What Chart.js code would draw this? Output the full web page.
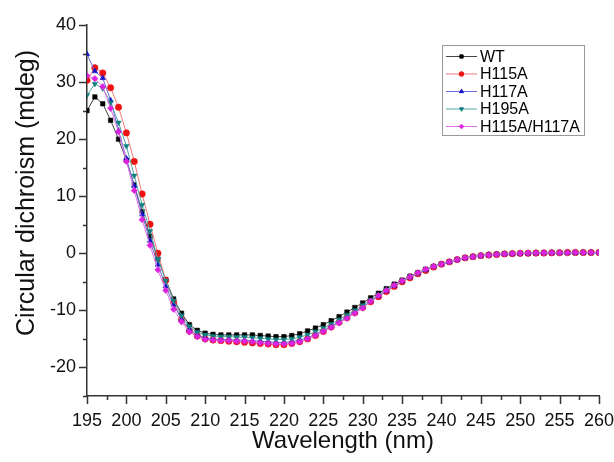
<!DOCTYPE html>
<html>
<head>
<meta charset="utf-8">
<script src="https://cdn.jsdelivr.net/npm/chart.js@4.4.0/dist/chart.umd.min.js"></script>
<style>
  body { margin: 0; background: #fff; }
  #wrap { width: 614px; height: 462px; }
</style>
</head>
<body>
<div id="wrap"><canvas id="cdChart" width="614" height="462"></canvas></div>
<script>
const wavelengths = [195, 196, 197, 198, 199, 200, 201, 202, 203, 204, 205, 206, 207, 208, 209, 210,
    211, 212, 213, 214, 215, 216, 217, 218, 219, 220, 221, 222, 223, 224, 225, 226, 227, 228, 229, 230,
    231, 232, 233, 234, 235, 236, 237, 238, 239, 240, 241, 242, 243, 244, 245, 246, 247, 248, 249, 250,
    251, 252, 253, 254, 255, 256, 257, 258, 259, 260];

const wt = [25.0, 27.4, 26.2, 23.3, 20.0, 16.3, 12.0, 7.3, 3.0, -1.0, -4.6, -8.0, -10.5, -12.5, -13.5, -14.0,
    -14.2, -14.3, -14.3, -14.3, -14.3, -14.3, -14.4, -14.5, -14.6, -14.6, -14.4, -14.1, -13.6, -13.1, -12.5, -11.8, -11.1, -10.3, -9.5, -8.7,
    -7.8, -7.0, -6.2, -5.4, -4.7, -4.0, -3.4, -2.8, -2.3, -1.9, -1.5, -1.1, -0.8, -0.6, -0.45, -0.3, -0.2, -0.15, -0.1, -0.05,
    0, 0, 0.05, 0.05, 0.1, 0.1, 0.1, 0.1, 0.1, 0.1];

const h115a = [30.3, 32.5, 31.6, 29.0, 25.6, 21.1, 16.1, 10.4, 5.1, 0.0, -4.7, -8.6, -11.6, -13.6, -14.5, -15.0,
    -15.2, -15.3, -15.4, -15.5, -15.6, -15.7, -15.8, -15.9, -16.0, -16.0, -15.8, -15.5, -15.0, -14.4, -13.7, -12.9, -12.1, -11.3, -10.4, -9.5,
    -8.5, -7.6, -6.7, -5.8, -5.0, -4.3, -3.6, -3.0, -2.4, -1.9, -1.5, -1.1, -0.8, -0.6, -0.4, -0.3, -0.2, -0.1, -0.05, 0,
    0, 0.05, 0.05, 0.1, 0.1, 0.15, 0.15, 0.15, 0.15, 0.15];

const h117a = [34.9, 31.9, 30.7, 26.8, 21.5, 16.6, 11.8, 6.8, 2.2, -2.0, -5.8, -9.0, -11.5, -13.3, -14.3, -14.8,
    -15.0, -15.1, -15.1, -15.2, -15.2, -15.3, -15.4, -15.5, -15.6, -15.6, -15.5, -15.2, -14.8, -14.2, -13.5, -12.8, -12.0, -11.2, -10.3, -9.4,
    -8.4, -7.5, -6.6, -5.7, -4.9, -4.2, -3.5, -2.9, -2.3, -1.9, -1.5, -1.1, -0.8, -0.6, -0.4, -0.25, -0.15, -0.1, -0.05, 0,
    0, 0.05, 0.1, 0.1, 0.1, 0.1, 0.1, 0.15, 0.15, 0.15];

const h195a = [27.7, 29.7, 28.9, 26.4, 22.9, 18.8, 13.6, 8.5, 3.9, -1.0, -4.8, -8.3, -10.9, -12.8, -13.8, -14.3,
    -14.5, -14.6, -14.6, -14.7, -14.7, -14.8, -14.9, -15.0, -15.1, -15.1, -15.0, -14.7, -14.3, -13.7, -13.1, -12.4, -11.6, -10.8, -10.0, -9.1,
    -8.2, -7.3, -6.4, -5.6, -4.8, -4.1, -3.5, -2.9, -2.3, -1.9, -1.5, -1.1, -0.8, -0.6, -0.4, -0.3, -0.2, -0.1, -0.05, 0,
    0, 0.05, 0.05, 0.1, 0.1, 0.1, 0.1, 0.1, 0.1, 0.1];

const h115aH117a = [31.1, 30.6, 29.2, 25.4, 21.3, 16.1, 11.0, 5.9, 1.4, -2.9, -6.5, -9.8, -12.0, -13.8, -14.6, -15.1,
    -15.2, -15.3, -15.3, -15.4, -15.4, -15.5, -15.7, -15.8, -15.9, -15.9, -15.8, -15.5, -15.0, -14.4, -13.7, -13.0, -12.2, -11.4, -10.5, -9.6,
    -8.4, -7.4, -6.5, -5.6, -4.8, -4.1, -3.4, -2.8, -2.3, -1.9, -1.5, -1.1, -0.8, -0.6, -0.4, -0.3, -0.2, -0.1, -0.05, 0,
    0.05, 0.05, 0.1, 0.1, 0.1, 0.1, 0.15, 0.15, 0.15, 0.15];

const seriesNames = ['WT', 'H115A', 'H117A', 'H195A', 'H115A/H117A'];
const seriesValues = [wt, h115a, h117a, h195a, h115aH117a];
const markerColors = ['#000000', '#ee1111', '#1111cc', '#118080', '#dd22dd'];
const lineColors = ['#444444', '#f07878', '#6a6ad8', '#50a8a8', '#e070e8'];
const markerStyles = ['rect', 'circle', 'triangle', 'triangle', 'rectRot'];
const markerRotation = [0, 0, 0, 180, 0];

const xTickMin = 195, xTickMax = 260, xTickStep = 2.5;
const yTickMin = -25, yTickMax = 40, yTickStep = 5;

const font = '"Liberation Sans", Arial, sans-serif';
const yTitle = 'Circular dichroism (mdeg)';

// tick marks: long at labelled ticks, short in between; plus the y title
const tickMarks = {
    id: 'tickMarks',
    afterDraw(chart) {
        const ctx = chart.ctx;
        const xs = chart.scales.x, ys = chart.scales.y;
        ctx.save();
        ctx.strokeStyle = '#333';
        ctx.lineWidth = 1.5;
        ctx.beginPath();
        xs.ticks.forEach(t => {
            const px = Math.round(xs.getPixelForValue(t.value)) + 0.5;
            const len = t.value % 5 === 0 ? 8 : 4;
            ctx.moveTo(px, ys.bottom);
            ctx.lineTo(px, ys.bottom + len);
        });
        ys.ticks.forEach(t => {
            const py = Math.round(ys.getPixelForValue(t.value)) + 0.5;
            const len = t.value % 10 === 0 ? 8 : 4;
            ctx.moveTo(xs.left, py);
            ctx.lineTo(xs.left - len, py);
        });
        ctx.stroke();

        ctx.translate(27, 193);
        ctx.rotate(-Math.PI / 2);
        ctx.fillStyle = '#111';
        ctx.font = '25px ' + font;
        ctx.textAlign = 'center';
        ctx.textBaseline = 'middle';
        ctx.fillText(yTitle, 0, 0);
        ctx.restore();
    }
};

// boxed legend with a short line and marker per series
const boxLegend = {
    id: 'boxLegend',
    afterDraw(chart) {
        const ctx = chart.ctx;
        ctx.save();
        ctx.fillStyle = '#fff';
        ctx.fillRect(442, 45, 142, 90);
        ctx.strokeStyle = '#999';
        ctx.lineWidth = 1;
        ctx.strokeRect(442.5, 45.5, 142, 90);
        ctx.font = '16px ' + font;
        ctx.textBaseline = 'middle';
        seriesNames.forEach((name, i) => {
            const y = 56.5 + i * 17.5;
            ctx.strokeStyle = lineColors[i];
            ctx.beginPath();
            ctx.moveTo(446, y);
            ctx.lineTo(477, y);
            ctx.stroke();
            ctx.fillStyle = markerColors[i];
            ctx.strokeStyle = markerColors[i];
            Chart.helpers.drawPoint(ctx, {
                pointStyle: markerStyles[i],
                radius: 2.3,
                rotation: markerRotation[i],
                borderWidth: 1
            }, 461.5, y);
            ctx.fillStyle = '#000';
            ctx.fillText(name, 480, y + 1);
        });
        ctx.restore();
    }
};

const datasets = seriesNames.map((name, i) => ({
    label: name,
    data: seriesValues[i].map((v, j) => ({ x: wavelengths[j], y: v })),
    borderColor: lineColors[i],
    borderWidth: 1,
    backgroundColor: markerColors[i],
    pointBackgroundColor: markerColors[i],
    pointBorderColor: markerColors[i],
    pointStyle: markerStyles[i],
    rotation: markerRotation[i],
    pointRadius: 3.2,
    pointBorderWidth: 0.5,
    tension: 0,
    order: seriesNames.length - i
}));

new Chart(document.getElementById('cdChart'), {
    type: 'line',
    data: { datasets: datasets },
    plugins: [tickMarks, boxLegend],
    options: {
        responsive: false,
        animation: false,
        layout: { padding: { top: 25, right: 15, left: 0, bottom: 0 } },
        plugins: {
            legend: { display: false },
            tooltip: { enabled: false }
        },
        scales: {
            x: {
                type: 'linear',
                min: xTickMin,
                max: xTickMax,
                afterFit(s) {
                    s.height = 66;
                    s.paddingLeft = 0;
                    s.paddingRight = 0;
                },
                grid: { display: false, drawTicks: false },
                border: { display: true, color: '#333', width: 1.5 },
                ticks: {
                    stepSize: xTickStep,
                    autoSkip: false,
                    maxRotation: 0,
                    padding: 14,
                    color: '#111',
                    font: { family: font, size: 18 },
                    callback: v => (v % 5 === 0 ? String(v) : '')
                },
                title: {
                    display: true,
                    text: 'Wavelength (nm)',
                    color: '#111',
                    font: { family: font, size: 24 },
                    padding: { top: 0, bottom: 6 }
                }
            },
            y: {
                min: yTickMin,
                max: yTickMax,
                afterFit(s) {
                    s.width = 87;
                    s.paddingTop = 0;
                    s.paddingBottom = 0;
                },
                grid: { display: false, drawTicks: false },
                border: { display: true, color: '#333', width: 1.5 },
                ticks: {
                    stepSize: yTickStep,
                    autoSkip: false,
                    padding: 11,
                    color: '#111',
                    font: { family: font, size: 18 },
                    callback: v => (v % 10 === 0 ? String(v) : '')
                },
                title: { display: false }
            }
        }
    }
});
</script>
</body>
</html>
